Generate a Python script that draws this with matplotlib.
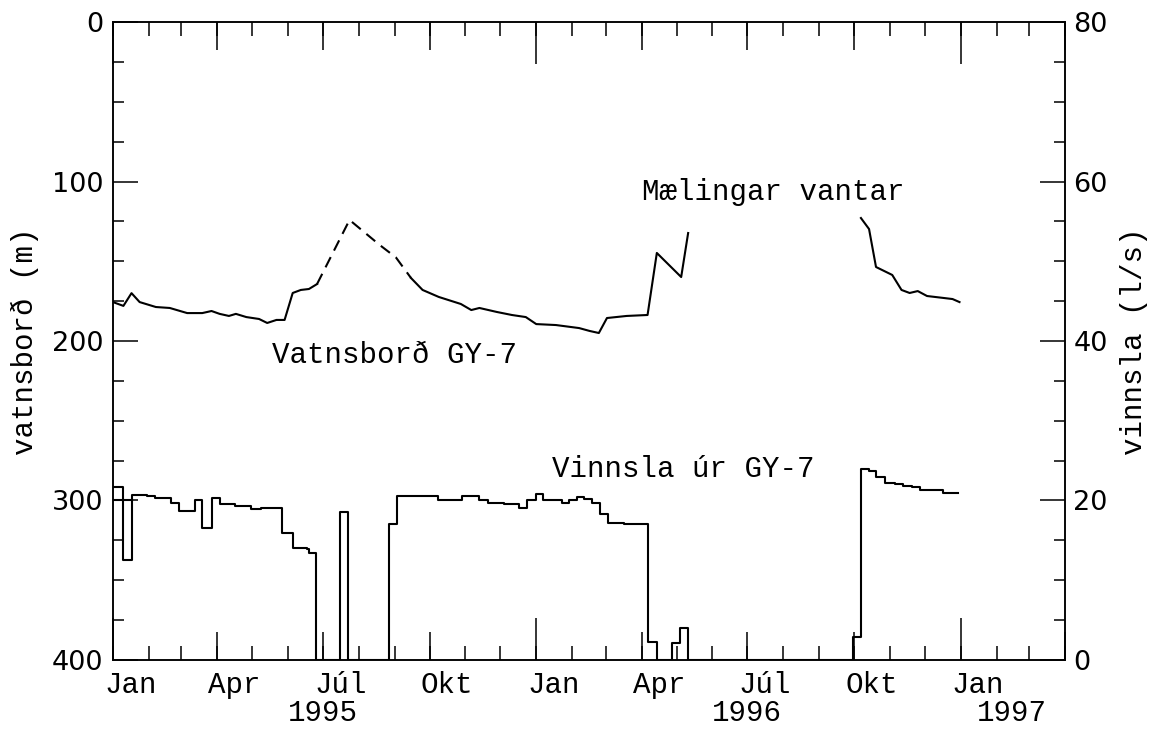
import numpy as np
import pandas as pd
import matplotlib
matplotlib.use('Agg')
import matplotlib.pyplot as plt
import matplotlib.dates as mdates

plt.rcParams['font.family'] = ['Liberation Mono', 'DejaVu Sans']

# water level (m below surface), left axis, inverted
wl_dates_a = ['1995-01-01', '1995-01-10', '1995-01-17', '1995-01-24', '1995-02-07', '1995-02-19',
              '1995-03-06', '1995-03-19', '1995-03-27', '1995-04-03', '1995-04-11', '1995-04-17',
              '1995-04-26', '1995-05-07', '1995-05-14', '1995-05-22', '1995-05-29', '1995-06-05',
              '1995-06-12', '1995-06-19', '1995-06-26']
wl_a = [175.6, 178.0, 170.0, 175.6, 178.7, 179.3, 182.5, 182.5, 181.2, 183.0, 184.3, 183.0,
        185.0, 186.2, 188.7, 186.8, 186.8, 169.9, 168.0, 167.4, 164.3]

# estimated part (dashed)
wl_dates_gap = ['1995-06-26', '1995-07-24', '1995-08-19', '1995-09-02', '1995-09-15']
wl_gap = [164.3, 124.1, 139.8, 147.6, 160.5]

wl_dates_b = ['1995-09-15', '1995-09-25', '1995-10-09', '1995-10-28', '1995-11-06', '1995-11-13',
              '1995-11-28', '1995-12-11', '1995-12-23', '1996-01-01', '1996-01-18', '1996-02-07',
              '1996-02-16', '1996-02-24', '1996-03-02', '1996-03-19', '1996-04-06', '1996-04-14',
              '1996-05-05', '1996-05-11']
wl_b = [160.5, 168.0, 172.4, 176.8, 180.6, 179.3, 181.8, 183.7, 185.0, 189.4, 190.0, 191.9,
        193.7, 195.0, 185.6, 184.3, 183.7, 144.8, 159.9, 132.3]

wl_dates_c = ['1996-10-07', '1996-10-14', '1996-10-20', '1996-10-27', '1996-11-03', '1996-11-11',
              '1996-11-18', '1996-11-25', '1996-12-03', '1996-12-10', '1996-12-17', '1996-12-25',
              '1996-12-31']
wl_c = [122.9, 129.8, 153.6, 156.1, 158.6, 168.0, 169.9, 168.7, 171.8, 172.4, 173.0, 173.7, 175.6]

# pumping (l/s), right axis, step changes
pump_dates = ['1995-01-01', '1995-01-10', '1995-01-17', '1995-01-30', '1995-02-06', '1995-02-20',
              '1995-02-27', '1995-03-13', '1995-03-19', '1995-03-27', '1995-04-03', '1995-04-16',
              '1995-04-30', '1995-05-09', '1995-05-27', '1995-06-05', '1995-06-17', '1995-06-19',
              '1995-06-25', '1995-07-16', '1995-07-23', '1995-08-27', '1995-09-03', '1995-09-20',
              '1995-10-08', '1995-10-18', '1995-10-29', '1995-11-13', '1995-11-20', '1995-12-04',
              '1995-12-17', '1995-12-24', '1996-01-01', '1996-01-07', '1996-01-23', '1996-01-29',
              '1996-02-05', '1996-02-11', '1996-02-18', '1996-02-25', '1996-03-03', '1996-03-17',
              '1996-04-06', '1996-04-14', '1996-04-27', '1996-05-04', '1996-05-11', '1996-09-30',
              '1996-10-07', '1996-10-14', '1996-10-20', '1996-10-28', '1996-11-05', '1996-11-12',
              '1996-11-20', '1996-11-27', '1996-12-17', '1996-12-23', '1996-12-30']
pump = [21.7, 12.5, 20.7, 20.5, 20.3, 19.7,
        18.7, 20.0, 16.5, 20.3, 19.6, 19.3,
        18.9, 19.1, 15.9, 14.1, 13.9, 13.4,
        0.0, 18.6, 0.0, 17.1, 20.6, 20.5,
        20.1, 20.0, 20.5, 20.1, 19.7, 19.6,
        19.0, 20.1, 20.8, 20.0, 19.7, 20.0,
        20.4, 20.2, 19.7, 18.3, 17.2, 17.0,
        2.3, 0.0, 2.1, 4.0, 0.0, 2.9,
        24.0, 23.7, 22.9, 22.2, 22.1, 21.8,
        21.7, 21.3, 21.0, 20.9, 20.9]
pump_jan_dates = ['1995-01-01', '1995-01-17']
pump_jan = [20.0, 20.0]

month_names = ['Jan', 'Apr', 'Júl', 'Okt', 'Jan', 'Apr', 'Júl', 'Okt', 'Jan']
years = ['1995', '1996', '1997']
year_pos = ['1995-07-01', '1996-07-01', '1997-02-14']

fig = plt.figure(figsize=(11.55, 7.29), dpi=100)
ax = fig.add_axes([0.0978, 0.0947, 0.8243, 0.8751])
ax2 = ax.twinx()

d = pd.to_datetime
ax.plot(d(wl_dates_a), wl_a, color='black', lw=1.5)
ax.plot(d(wl_dates_gap), wl_gap, color='black', lw=1.5, linestyle=(0, (5.5, 3.5)))
ax.plot(d(wl_dates_b), wl_b, color='black', lw=1.5)
ax.plot(d(wl_dates_c), wl_c, color='black', lw=1.5)

ax2.step(d(pump_dates), pump, where='post', color='black', lw=1.5)
ax2.plot(d(pump_jan_dates), pump_jan, color='black', lw=1.5)

ax.set_xlim(d('1995-01-01'), d('1997-04-01'))
ax.set_ylim(400, 0)
ax2.set_ylim(0, 80)

# x ticks
month_starts = pd.date_range('1995-01-01', '1997-04-01', freq='MS')
quarter_starts = pd.date_range('1995-01-01', '1997-04-01', freq='QS')
year_starts = pd.date_range('1995-01-01', '1997-01-01', freq='YS')
label_pos = [q + pd.Timedelta(days=15) for q in quarter_starts[:len(month_names)]]

ax.set_xticks(mdates.date2num(label_pos))
ax.set_xticklabels(month_names)
ax.set_xticks(mdates.date2num(month_starts), minor=True)
ax.tick_params(axis='x', which='major', length=0, pad=8, labelsize=21)
ax.tick_params(axis='x', which='minor', direction='in', length=10, width=1.1, top=True, bottom=True)

for loc in ['top', 'bottom']:
    sec = ax.secondary_xaxis(loc)
    sec.set_xticks(mdates.date2num(year_starts))
    sec.set_xticks(mdates.date2num(quarter_starts), minor=True)
    sec.tick_params(which='major', direction='in', length=30, width=1.1,
                    labeltop=False, labelbottom=False)
    sec.tick_params(which='minor', direction='in', length=20, width=1.1,
                    labeltop=False, labelbottom=False)
    for s in sec.spines.values():
        s.set_visible(False)

sec_yr = ax.secondary_xaxis('bottom')
sec_yr.set_xticks(mdates.date2num(d(year_pos)))
sec_yr.set_xticklabels(years)
sec_yr.tick_params(length=0, pad=28, labelsize=21)
for s in sec_yr.spines.values():
    s.set_visible(False)

# y ticks
ax.set_yticks([0, 100, 200, 300, 400])
ax.set_yticks(np.arange(0, 401, 25), minor=True)
ax.tick_params(axis='y', which='major', direction='in', length=18, width=1.1,
               left=True, right=False, pad=7, labelsize=19.5, labelfontfamily='DejaVu Sans')
ax.tick_params(axis='y', which='minor', direction='in', length=8, width=1.1, left=True, right=False)

ax2.set_yticks([0, 20, 40, 60, 80])
ax2.set_yticks(np.arange(0, 81, 5), minor=True)
ax2.tick_params(axis='y', which='major', direction='in', length=18, width=1.1,
                pad=6, labelsize=19.5, labelfontfamily='DejaVu Sans')
ax2.tick_params(axis='y', which='minor', direction='in', length=8, width=1.1)

for a in [ax, ax2]:
    for s in a.spines.values():
        s.set_linewidth(1.1)

ax.set_ylabel('vatnsborð (m)', fontsize=21)
ax.yaxis.set_label_coords(-0.078, 0.5)
ax2.set_ylabel('vinnsla (l/s)', fontsize=21)
ax2.yaxis.set_label_coords(1.058, 0.5)

ax.text(d('1995-05-18'), 213.8, 'Vatnsborð GY-7', fontsize=21, va='baseline', ha='left')
ax.text(d('1996-04-01'), 111.6, 'Mælingar vantar', fontsize=21, va='baseline', ha='left')
ax.text(d('1996-01-15'), 285.3, 'Vinnsla úr GY-7', fontsize=21, va='baseline', ha='left')

plt.savefig('out.png', dpi=100)
